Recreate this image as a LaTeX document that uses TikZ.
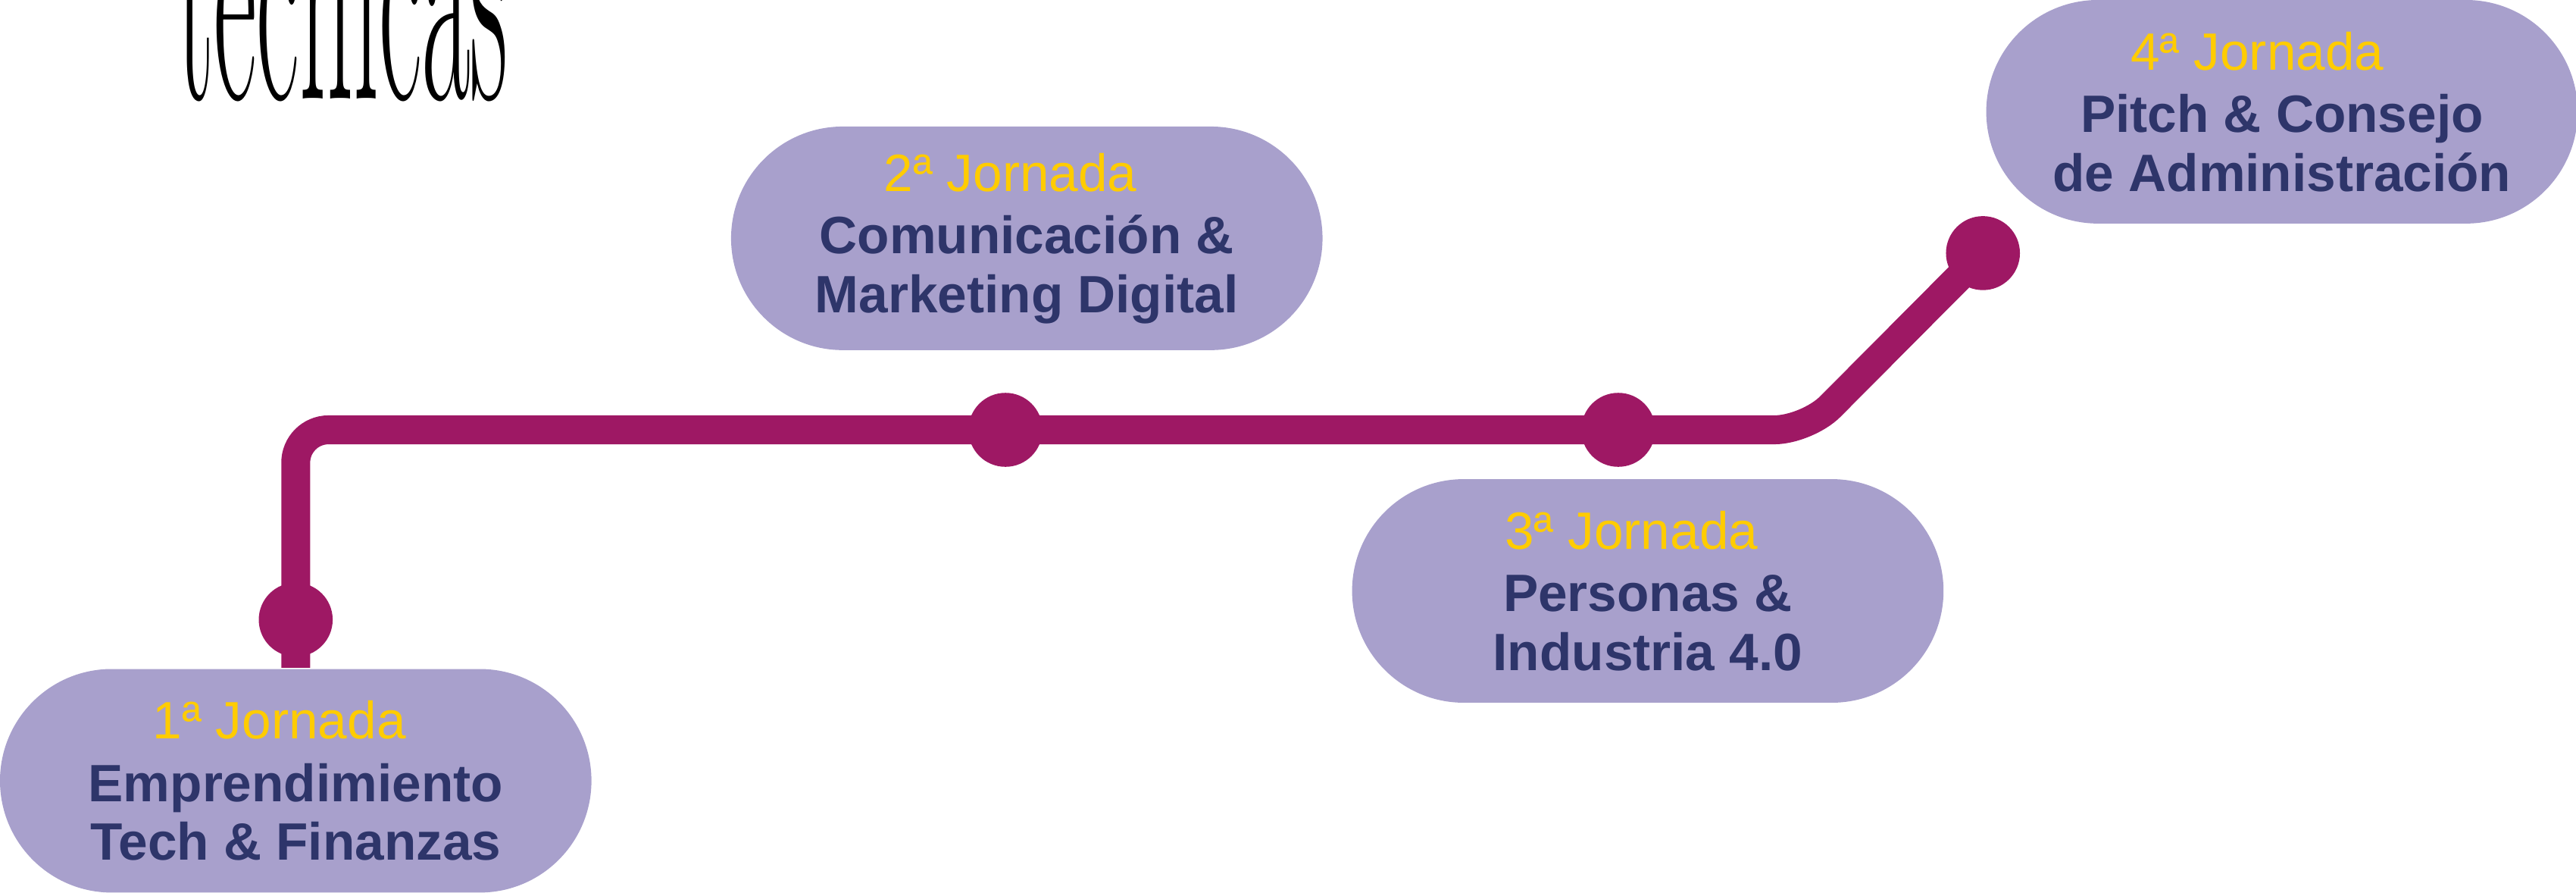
\documentclass[tikz,border=0pt]{standalone}
\usepackage{fontspec}
\setsansfont{Liberation Sans}
\usepackage{xcolor}
\usepackage{tikz}
\usetikzlibrary{positioning}
\definecolor{lila}{HTML}{A8A0CC}
\definecolor{vino}{HTML}{9E1864}
\definecolor{oro}{HTML}{FFCC00}
\definecolor{marino}{HTML}{2E356A}

\begin{document}
\begin{tikzpicture}[
	pill/.style={rectangle,fill=lila,rounded corners=0.68cm,minimum width=3.6cm,minimum height=1.36cm,inner sep=0pt,align=center,text=marino,font=\sffamily\bfseries\fontsize{9.1}{10.2}\selectfont},
	hito/.style={circle,fill=vino,minimum size=0.45cm,inner sep=0pt},
	track/.style={line width=5pt,vino,rounded corners=0.2cm}]
	\useasboundingbox (0,0) rectangle (15.68,5.43);
	\clip (0,0) rectangle (15.68,5.43);
	\node[anchor=base west,inner sep=0pt] (titulo) at (1.07,4.83) {\scalebox{1}[3.2]{\fontsize{18.2}{18}\selectfont técnicas}};
	\node[pill] (j1) at (1.80,0.68) {\textcolor{oro}{\mdseries 1ª Jornada}\hspace*{2mm}\\[0.6pt]Emprendimiento\\Tech \& Finanzas};
	\node[pill] (j2) at (6.25,3.98) {\textcolor{oro}{\mdseries 2ª Jornada}\hspace*{2mm}\\[0.6pt]Comunicación \&\\Marketing Digital};
	\node[pill] (j3) at (10.03,1.835) {\textcolor{oro}{\mdseries 3ª Jornada}\hspace*{2mm}\\[0.6pt]Personas \&\\Industria 4.0};
	\node[pill] (j4) at (13.89,4.75) {\textcolor{oro}{\mdseries 4ª Jornada}\hspace*{3mm}\\[0.6pt]Pitch \& Consejo\\de Administración};
	\node[hito] (d1) at (1.80,1.66) {};
	\node[hito] (d2) at (6.12,2.815) {};
	\node[hito] (d3) at (9.85,2.815) {};
	\node[hito] (d4) at (12.07,3.89) {};
	\coordinate (c1) at (1.80,2.815);
	\coordinate (c2) at (11.00,2.815);
	\draw[track] (j1.north) -- (d1.center) -- (c1) -- (d2.center) -- (d3.center) -- (c2) -- (d4.center);
\end{tikzpicture}
\end{document}
